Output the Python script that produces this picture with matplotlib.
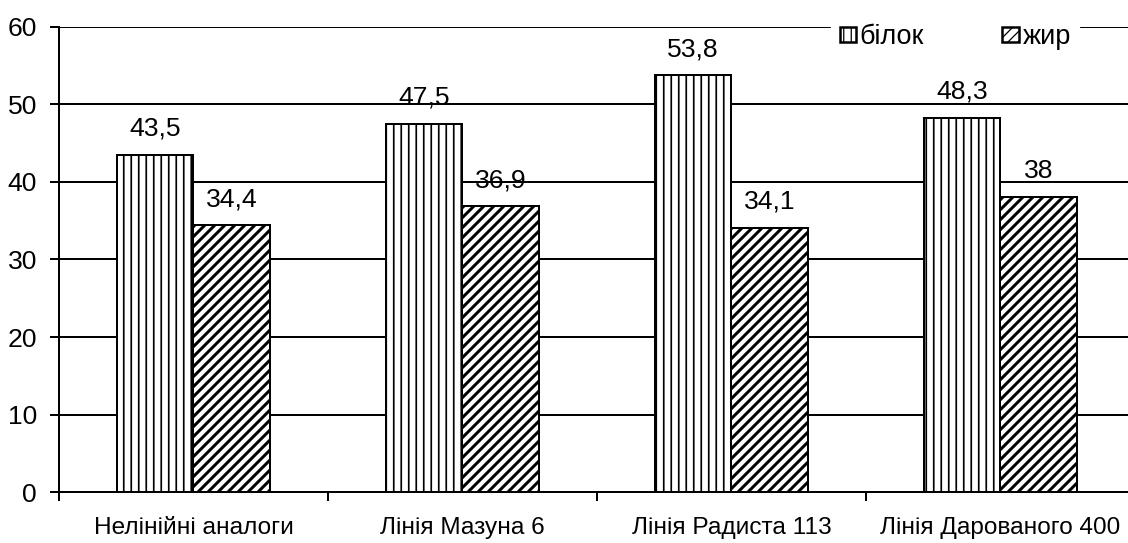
import matplotlib
matplotlib.use("Agg")
import matplotlib.pyplot as plt
import numpy as np

plt.rcParams["font.family"] = ["Liberation Sans", "DejaVu Sans"]

categories = ["Нелінійні аналоги", "Лінія Мазуна 6", "Лінія Радиста 113", "Лінія Дарованого 400"]
protein = [43.5, 47.5, 53.8, 48.3]
fat = [34.4, 36.9, 34.1, 38.0]
protein_labels = ["43,5", "47,5", "53,8", "48,3"]
fat_labels = ["34,4", "36,9", "34,1", "38"]
yticks = [0, 10, 20, 30, 40, 50, 60]

# hatch spacing follows the dpi, so sizes below are given in pixels
DPI = 90


def px(v):
    return v * 72.0 / DPI


FS = px(24.4)
LW = px(2.0)


def hatched_bars(ax, x, values, hatch, hatch_lw, label):
    bars = ax.bar(x, values, width=0.286, color="white", edgecolor="black",
                  linewidth=LW, hatch=hatch, label=label, zorder=3)
    for b in bars:
        try:
            b.set_hatch_linewidth(hatch_lw)
        except AttributeError:
            pass
    return bars


fig = plt.figure(figsize=(1128 / DPI, 543 / DPI), dpi=DPI)
ax = fig.add_axes([0.0523, 0.0939, 1.0062 - 0.0523, 0.9503 - 0.0939])

x = np.arange(len(categories))
b1 = hatched_bars(ax, x - 0.143, protein, "||", px(1.7), "білок")
b2 = hatched_bars(ax, x + 0.143, fat, "///", px(3.0), "жир")

for bars, labels in ((b1, protein_labels), (b2, fat_labels)):
    for b, txt in zip(bars, labels):
        ax.annotate(txt, (b.get_x() + b.get_width() / 2, b.get_height()),
                    xytext=(0, px(19)), textcoords="offset points",
                    ha="center", va="baseline", fontsize=px(26.5), zorder=5)

ax.set_xlim(-0.5, len(categories) - 0.5)
ax.set_ylim(0, 60)
ax.set_yticks(yticks)
ax.set_yticklabels([str(v) for v in yticks], fontsize=px(26.5))
ax.tick_params(axis="y", length=px(9.5), width=LW, pad=px(12.5))

ax.set_xticks(x)
ax.set_xticklabels(categories, fontsize=FS)
ax.tick_params(axis="x", which="major", length=0, pad=px(25))
ax.set_xticks(np.arange(len(categories)) - 0.5, minor=True)
ax.tick_params(axis="x", which="minor", length=px(9), width=LW)

ax.yaxis.grid(True, color="black", linewidth=LW, zorder=0)
ax.set_axisbelow(True)
for side in ("top", "right"):
    ax.spines[side].set_visible(False)
for side in ("left", "bottom"):
    ax.spines[side].set_linewidth(LW)

leg = ax.legend(loc="center", bbox_to_anchor=(0.833, 0.978), ncol=2,
                frameon=True, fancybox=False, framealpha=1, edgecolor="white",
                facecolor="white", fontsize=px(27), handlelength=0.6,
                handleheight=0.5, handletextpad=0.15, columnspacing=2.9,
                borderpad=0.3, borderaxespad=0)
leg.set_zorder(6)
for h in leg.legend_handles:
    h.set_linewidth(px(2.5))

fig.savefig("out.png", dpi=DPI)
